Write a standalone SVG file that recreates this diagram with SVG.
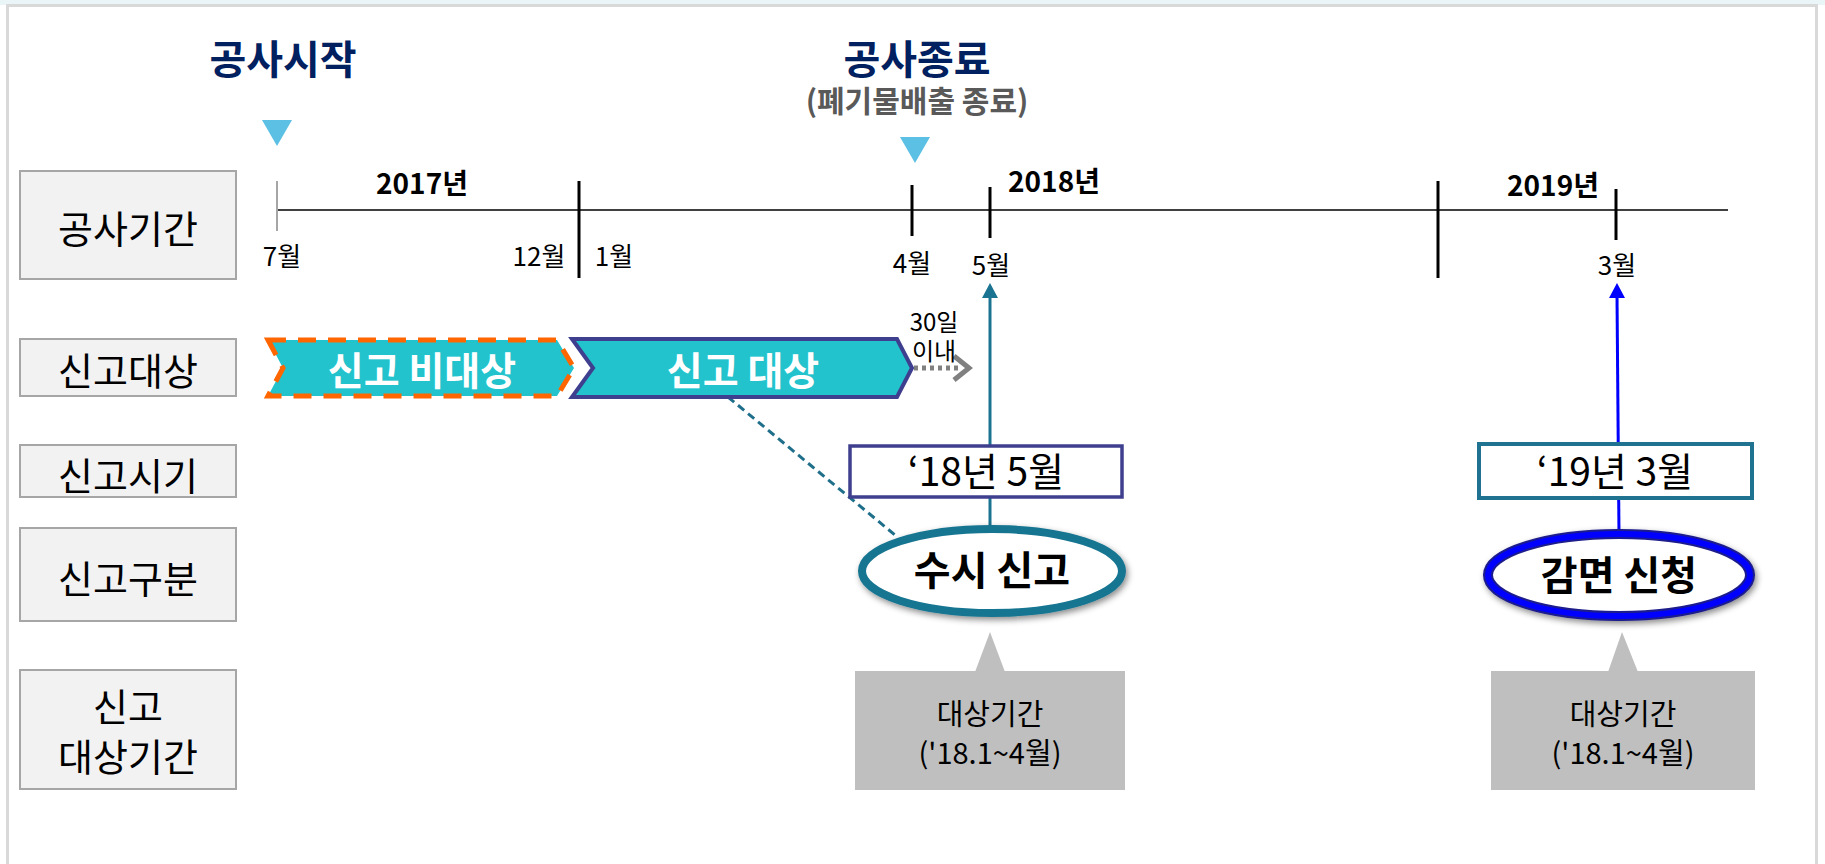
<svg xmlns="http://www.w3.org/2000/svg" width="1825" height="864" viewBox="0 0 1825 864">
<defs>
<style>
text{font-family:"Noto Sans CJK KR","Noto Sans",sans-serif;}
.lbl{fill:#F2F2F2;stroke:#A6A6A6;stroke-width:2;}
.lt{font-size:38px;fill:#000;text-anchor:middle;}
.title{font-size:40px;font-weight:bold;fill:#002060;text-anchor:middle;}
.yr{font-size:28px;font-weight:bold;fill:#000;text-anchor:middle;}
.mo{font-size:26px;fill:#000;text-anchor:middle;}
.tick{stroke:#000;stroke-width:3;}
.tri{fill:#5BC0E3;}
.chev{fill:#22C3CC;}
.ct{font-size:39px;font-weight:bold;fill:#FFFFFF;text-anchor:middle;}
.bt{font-size:39px;fill:#000;text-anchor:middle;}
.et{font-size:40px;font-weight:bold;fill:#000;text-anchor:middle;}
.call{fill:#BFBFBF;}
.cat{font-size:29px;fill:#000;text-anchor:middle;}
</style>
<filter id="sh" x="-20%" y="-30%" width="140%" height="160%">
<feDropShadow dx="2" dy="3" stdDeviation="3" flood-color="#000" flood-opacity="0.45"/>
</filter>
</defs>
<rect x="0" y="0" width="1825" height="864" fill="#FFFFFF"/>
<rect x="0" y="0" width="1825" height="5" fill="#EAF5F8"/>
<rect x="7.5" y="5.5" width="1809" height="900" fill="none" stroke="#D9D9D9" stroke-width="3"/>

<g id="row-labels">
<g id="lbl-gongsagigan"><rect class="lbl" x="20" y="171" width="216" height="108"/><text class="lt" x="128" y="243">공사기간</text></g>
<g id="lbl-singodaesang"><rect class="lbl" x="20" y="339" width="216" height="57"/><text class="lt" x="128" y="385">신고대상</text></g>
<g id="lbl-singosigi"><rect class="lbl" x="20" y="445" width="216" height="52"/><text class="lt" x="128" y="490">신고시기</text></g>
<g id="lbl-singogubun"><rect class="lbl" x="20" y="528" width="216" height="93"/><text class="lt" x="128" y="593">신고구분</text></g>
<g id="lbl-daesanggigan"><rect class="lbl" x="20" y="670" width="216" height="119"/><text class="lt" x="128" y="721">신고</text><text class="lt" x="128" y="771">대상기간</text></g>
</g>

<g id="start-marker">
<text class="title" x="283" y="74">공사시작</text>
<polygon class="tri" points="262,120 292,120 277,146"/>
</g>
<g id="end-marker">
<text class="title" x="917" y="74">공사종료</text>
<text x="917" y="112" font-size="30" font-weight="bold" fill="#595959" text-anchor="middle">(폐기물배출 종료)</text>
<polygon class="tri" points="900,137 930,137 915,163"/>
</g>

<g id="timeline">
<line x1="277" y1="210" x2="1728" y2="210" stroke="#404040" stroke-width="2"/>
<line x1="277" y1="181" x2="277" y2="231" stroke="#A6A6A6" stroke-width="2"/>
<line class="tick" x1="579" y1="181" x2="579" y2="278"/>
<line class="tick" x1="912" y1="185" x2="912" y2="236"/>
<line class="tick" x1="990" y1="187" x2="990" y2="238"/>
<line class="tick" x1="1438" y1="181" x2="1438" y2="278"/>
<line class="tick" x1="1616" y1="189" x2="1616" y2="240"/>
<text class="yr" x="422" y="194">2017년</text>
<text class="yr" x="1054" y="192">2018년</text>
<text class="yr" x="1553" y="196">2019년</text>
<text class="mo" x="282" y="266">7월</text>
<text class="mo" x="539" y="266">12월</text>
<text class="mo" x="614" y="266">1월</text>
<text class="mo" x="912" y="273">4월</text>
<text class="mo" x="991" y="275">5월</text>
<text class="mo" x="1617" y="275">3월</text>
</g>

<g id="connectors">
<line x1="990" y1="296" x2="990" y2="530" stroke="#1A7391" stroke-width="3"/>
<polygon points="990,283 982,298 998,298" fill="#1A7391"/>
<line x1="1617" y1="296" x2="1619" y2="535" stroke="#0000FF" stroke-width="3"/>
<polygon points="1617,283 1609,298 1625,298" fill="#0000FF"/>
<line x1="728" y1="397" x2="895" y2="535" stroke="#1F6F8B" stroke-width="3" stroke-dasharray="8 5"/>
<line x1="914" y1="368" x2="960" y2="368" stroke="#808080" stroke-width="5" stroke-dasharray="4 4"/>
<polyline points="954,356 969,368 954,380" fill="none" stroke="#808080" stroke-width="5"/>
<text x="934" y="331" font-size="24" fill="#000" text-anchor="middle">30일</text>
<text x="934" y="360" font-size="24" fill="#000" text-anchor="middle">이내</text>
</g>

<g id="chev-nontarget">
<polygon class="chev" points="268,340 557,340 574,368 557,396 268,396 283,368" stroke="#FF6600" stroke-width="5" stroke-dasharray="18 12"/>
<text class="ct" x="422" y="385">신고 비대상</text>
</g>
<g id="chev-target">
<polygon class="chev" points="572,339 897,339 912,368 897,397 572,397 593,368" stroke="#3F3F8F" stroke-width="4"/>
<text class="ct" x="743" y="385">신고 대상</text>
</g>

<g id="box-1805">
<rect x="850" y="446" width="272" height="51" fill="#FFFFFF" stroke="#3F3F8F" stroke-width="3.5"/>
<text class="bt" x="986" y="486">‘18년 5월</text>
</g>
<g id="box-1903">
<rect x="1479" y="444" width="273" height="54" fill="#FFFFFF" stroke="#1F7391" stroke-width="4"/>
<text class="bt" x="1615" y="486">‘19년 3월</text>
</g>

<g id="ellipse-susi">
<ellipse cx="992" cy="571" rx="130" ry="42" fill="#FFFFFF" stroke="#167490" stroke-width="8" filter="url(#sh)"/>
<text class="et" x="992" y="585">수시 신고</text>
</g>
<g id="ellipse-gammyeon">
<ellipse cx="1619" cy="575" rx="131" ry="41" fill="#FFFFFF" stroke="#1A1A8C" stroke-width="10" filter="url(#sh)"/>
<ellipse cx="1619" cy="575" rx="131" ry="41" fill="none" stroke="#0000FF" stroke-width="6"/>
<text class="et" x="1619" y="590">감면 신청</text>
</g>

<g id="callout-1">
<polygon class="call" points="975,672 990,632 1005,672"/>
<rect class="call" x="855" y="671" width="270" height="119"/>
<text class="cat" x="990" y="725">대상기간</text>
<text class="cat" x="990" y="764">('18.1~4월)</text>
</g>
<g id="callout-2">
<polygon class="call" points="1608,672 1622,632 1638,672"/>
<rect class="call" x="1491" y="671" width="264" height="119"/>
<text class="cat" x="1623" y="725">대상기간</text>
<text class="cat" x="1623" y="764">('18.1~4월)</text>
</g>
</svg>
